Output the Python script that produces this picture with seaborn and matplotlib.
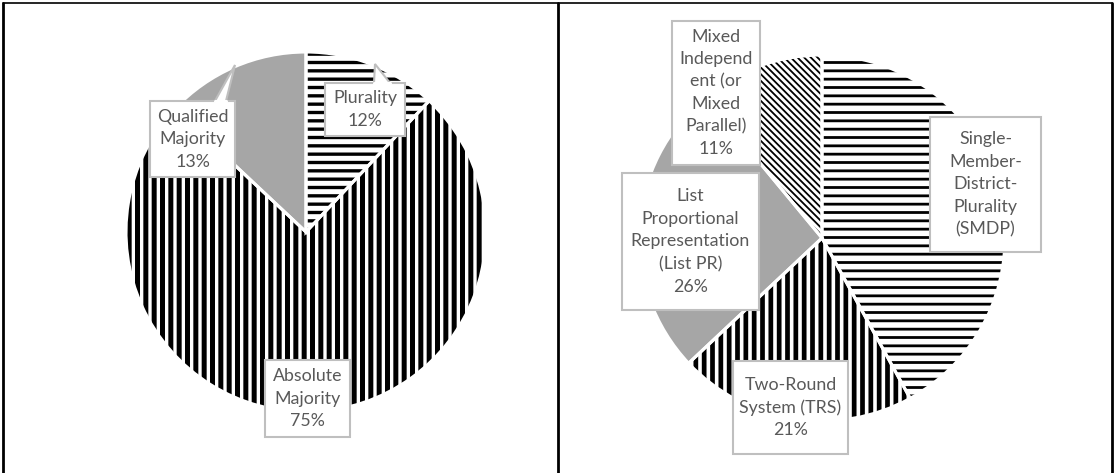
import matplotlib
matplotlib.use("Agg")
import matplotlib.pyplot as plt
import seaborn as sns
from matplotlib.patches import Rectangle, Polygon
from matplotlib.lines import Line2D

sns.set_theme(style="white")
plt.rcParams['font.family'] = ['Lato', 'DejaVu Sans']
plt.rcParams['hatch.color'] = 'black'

# ---- data ----
left_labels = ["Plurality", "Absolute\nMajority", "Qualified\nMajority"]
left_values = [12, 75, 13]
right_labels = ["Single-\nMember-\nDistrict-\nPlurality\n(SMDP)", "Two-Round\nSystem (TRS)",
                "List\nProportional\nRepresentation\n(List PR)", "Mixed\nIndepend\nent (or\nMixed\nParallel)"]
right_values = [42, 21, 26, 11]
right_show_pct = [False, True, True, True]

W, H = 1114, 473
DPI = 100
fig = plt.figure(figsize=(W / DPI, H / DPI), dpi=DPI)

GRAY = "#a6a6a6"
TXT = "#595959"
EDGE = "#bfbfbf"

def make_ax(cx, cy, r):
    return fig.add_axes([(cx - r) / W, (H - cy - r) / H, 2 * r / W, 2 * r / H])

def draw_pie(ax, values, fills, hatches, hlws):
    wedges = []
    for i, (h, lw) in enumerate(zip(hatches, hlws)):
        pass
    ws, _ = ax.pie(values, startangle=90, counterclock=False, colors=fills,
                   wedgeprops=dict(linewidth=0, edgecolor="black"))
    for w, h, lw in zip(ws, hatches, hlws):
        w.set_edgecolor("black")
        w.set_linewidth(0)
        if h:
            w.set_hatch(h)
            w._hatch_linewidth = lw
            if hasattr(w, "set_hatch_linewidth"):
                w.set_hatch_linewidth(lw)
    ax.pie(values, startangle=90, counterclock=False,
           wedgeprops=dict(facecolor="none", edgecolor="white", linewidth=2.2))
    ax.set_xlim(-1, 1)
    ax.set_ylim(-1, 1)
    ax.set_aspect("auto")
    ax.axis("off")

def label_box(ax, cx, cy, r, box, text, pointer=None):
    x0, y0, x1, y1 = box
    to = lambda px, py: ((px - cx) / r, (cy - py) / r)
    (dx0, dy1) = to(x0, y0)
    (dx1, dy0) = to(x1, y1)
    ax.add_patch(Rectangle((dx0, dy0), dx1 - dx0, dy1 - dy0, facecolor="white",
                           edgecolor=EDGE, linewidth=1.5, clip_on=False, zorder=5))
    if pointer is not None:
        pts = [to(px, py) for px, py in pointer]
        ax.add_patch(Polygon(pts, closed=False, facecolor="white", edgecolor=EDGE,
                             linewidth=1.5, clip_on=False, zorder=6))
        ax.add_line(Line2D([pts[0][0], pts[-1][0]], [pts[0][1], pts[-1][1]],
                           color="white", linewidth=2.2, zorder=6.5, clip_on=False))
    ax.text((dx0 + dx1) / 2, (dy0 + dy1) / 2, text, ha="center", va="center",
            color=TXT, fontsize=12.8, linespacing=1.5, zorder=7, clip_on=False)

# ---- left pie ----
Lcx, Lcy, Lr = 306, 232, 180
axL = make_ax(Lcx, Lcy, Lr)
plt.rcParams['hatch.linewidth'] = 3.0
draw_pie(axL, left_values, ["white", "white", GRAY], ["--", "||", None], [2.4, 3.6, 0])
left_boxes = [(325, 83, 405, 136), (265, 360, 350, 437), (150, 101, 235, 177)]
left_pointers = [[(374, 83), (375, 64), (390, 83)], None, [(215, 101), (235, 65), (226, 101)]]
for lab, v, box, ptr in zip(left_labels, left_values, left_boxes, left_pointers):
    label_box(axL, Lcx, Lcy, Lr, box, f"{lab}\n{v}%", ptr)

# ---- right pie ----
Rcx, Rcy, Rr = 822, 238, 183
axR = make_ax(Rcx, Rcy, Rr)
draw_pie(axR, right_values, ["white", "white", GRAY, "white"],
         ["--", "||", None, "\\\\\\\\\\"], [2.0, 3.4, 0, 1.3])
right_boxes = [(930, 117, 1041, 252), (733, 361, 848, 454), (622, 173, 759, 310), (672, 21, 760, 165)]
for lab, v, box, show in zip(right_labels, right_values, right_boxes, right_show_pct):
    txt = f"{lab}\n{v}%" if show else lab
    label_box(axR, Rcx, Rcy, Rr, box, txt)

# ---- table frame ----
def fline(xs, ys, lw):
    fig.add_artist(Line2D([x / W for x in xs], [1 - y / H for y in ys], color="black",
                          linewidth=lw, transform=fig.transFigure))

fline([3, 1112], [3.5, 3.5], 1.2)
fline([3, 3], [3, 473], 2.0)
fline([558, 558], [3, 473], 2.0)
fline([1112, 1112], [3, 473], 2.0)

fig.savefig("out.png", dpi=DPI)
